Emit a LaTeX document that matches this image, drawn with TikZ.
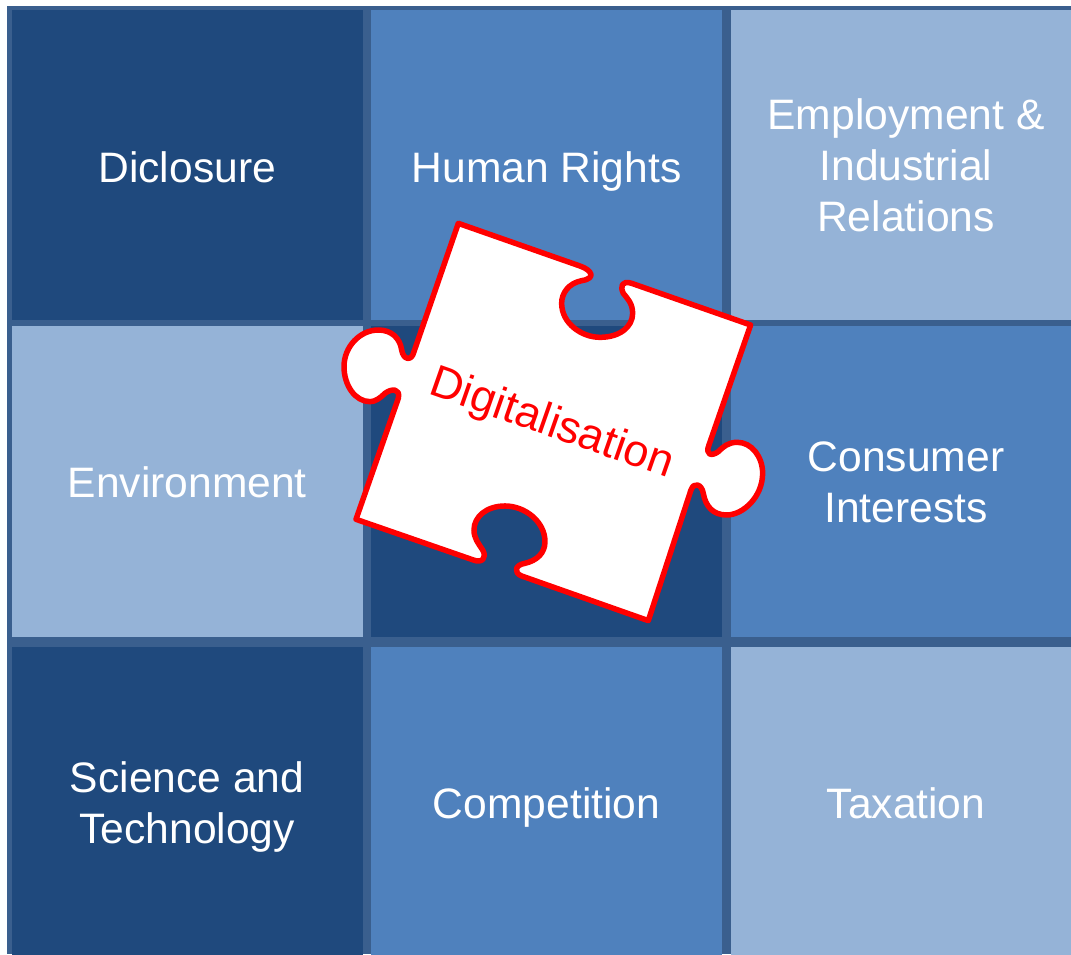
\documentclass[tikz,border=0pt]{standalone}
\usepackage{xcolor}
\usepackage{fontspec}
\setmainfont{Liberation Sans}
\usetikzlibrary{positioning}

\definecolor{griddark}{HTML}{1F497D}
\definecolor{gridmid}{HTML}{4F81BD}
\definecolor{gridlight}{HTML}{95B3D7}
\definecolor{gridline}{HTML}{3A5F8E}

\tikzset{
  cell/.style={minimum width=351pt,minimum height=310pt,inner sep=0pt,align=center,text=white,
    text depth=0pt,execute at begin node={\rule{0pt}{31pt}},
    font=\fontsize{42.6pt}{51pt}\selectfont},
  darkcell/.style={cell,fill=griddark},
  midcell/.style={cell,fill=gridmid},
  lightcell/.style={cell,fill=gridlight},
  toprow/.style={execute at begin node={\rule{0pt}{34pt}}},
  middlerow/.style={minimum height=311pt},
  lastrow/.style={minimum height=312pt},
  piece/.style={draw=red,fill=white,line width=5.5pt,line join=round}
}

\begin{document}
\begin{tikzpicture}[x=1pt,y=-1pt,node distance=8pt]
  \path[use as bounding box,clip] (0,0) rectangle (1071,954);
  \fill[gridline] (7,6) rectangle (1071,954);

  % top row
  \node[darkcell,toprow] (disclosure) at (187.2,165) {Diclosure};
  \node[midcell,toprow,right=of disclosure] (rights) {Human Rights};
  \node[lightcell,toprow,right=of rights] (employment) {Employment \&\\Industrial\\Relations};
  % middle row
  \node[lightcell,middlerow,below=6pt of disclosure] (environment) {Environment};
  \node[darkcell,middlerow,right=of environment] (centre) {};
  \node[midcell,middlerow,right=of centre] (consumer) {Consumer\\Interests};
  % bottom row
  \node[darkcell,lastrow,below=9pt of environment] (science) {Science and\\Technology};
  \node[midcell,lastrow,right=of science] (competition) {Competition};
  \node[lightcell,lastrow,right=of competition] (taxation) {Taxation};

  % puzzle piece
  \begin{scope}[shift={(330,210)},x=0.3333pt,y=-0.3333pt]
    \draw[piece] (385,40) -- (750,168)
      .. controls (785,180) and (800,205) .. (755,212)
      .. controls (715,220) and (695,250) .. (695,280)
      .. controls (695,340) and (755,382) .. (810,382)
      .. controls (870,382) and (908,350) .. (908,310)
      .. controls (908,280) and (892,265) .. (880,250)
      .. controls (870,230) and (875,210) .. (905,220)
      -- (1262,345) -- (1137,705)
      .. controls (1125,735) and (1145,740) .. (1165,725)
      .. controls (1180,710) and (1195,697) .. (1222,697)
      .. controls (1265,697) and (1298,740) .. (1298,790)
      .. controls (1298,860) and (1240,915) .. (1190,915)
      .. controls (1150,915) and (1127,890) .. (1120,850)
      .. controls (1115,822) and (1092,815) .. (1083,840)
      -- (955,1232) -- (575,1098)
      .. controls (550,1088) and (555,1065) .. (585,1060)
      .. controls (620,1052) and (645,1030) .. (645,995)
      .. controls (645,935) and (585,888) .. (525,888)
      .. controls (470,888) and (432,920) .. (432,960)
      .. controls (432,985) and (445,1000) .. (458,1020)
      .. controls (472,1045) and (455,1060) .. (430,1050)
      -- (78,928) -- (205,565)
      .. controls (212,535) and (185,535) .. (165,550)
      .. controls (150,565) and (135,575) .. (120,575)
      .. controls (75,575) and (42,525) .. (42,470)
      .. controls (42,410) and (90,360) .. (145,360)
      .. controls (185,360) and (210,385) .. (215,420)
      .. controls (220,450) and (245,455) .. (252,425)
      -- cycle;
    \node[text=red,rotate=-19.3,inner sep=0pt,font=\fontsize{45pt}{51pt}\selectfont] (label) at (664,645) {Digitalisation};
  \end{scope}
\end{tikzpicture}
\end{document}
